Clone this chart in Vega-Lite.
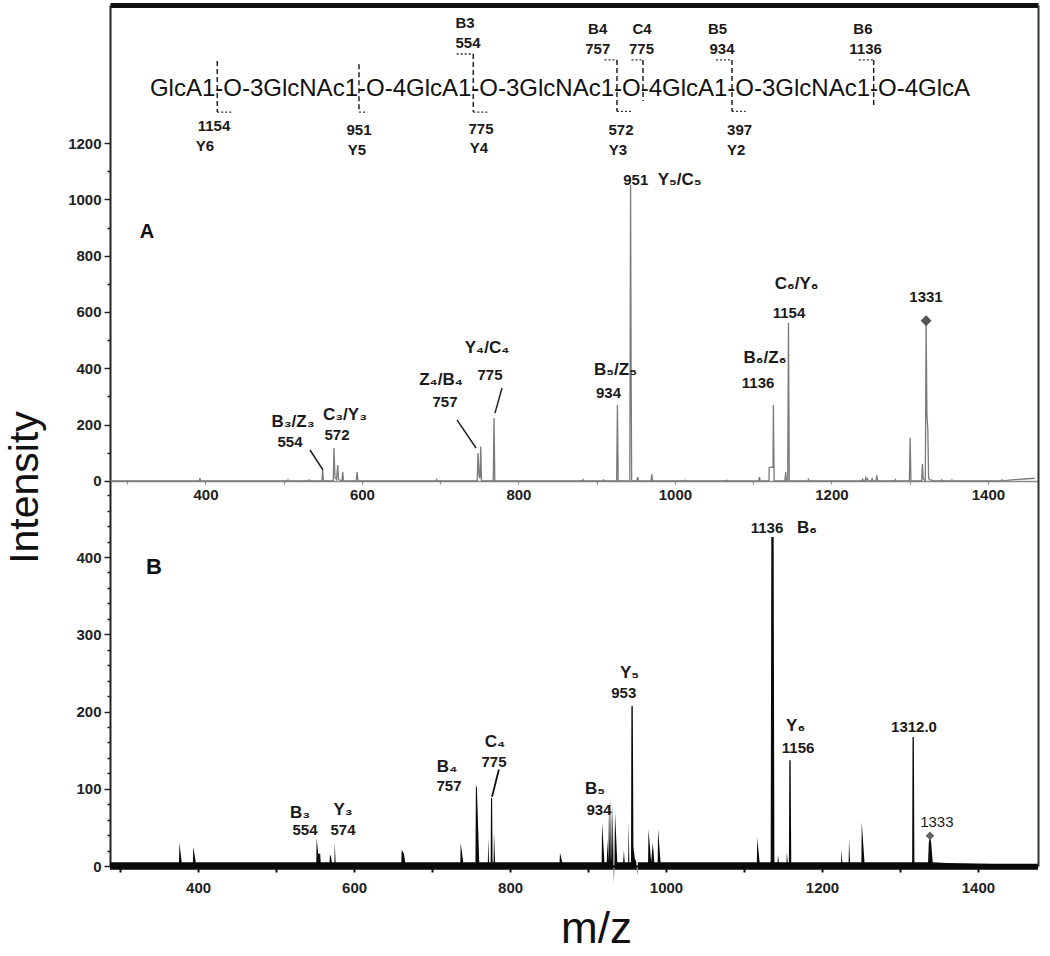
{
  "$schema": "https://vega.github.io/schema/vega-lite/v6.json",
  "width": 928,
  "height": 861,
  "autosize": {"type": "none"},
  "padding": {"left": 110, "top": 5, "right": 12, "bottom": 90},
  "background": "white",
  "config": {
    "view": {"stroke": null},
    "font": "Liberation Sans",
    "axis": {"grid": false, "labelFont": "Liberation Sans", "titleFont": "Liberation Sans", "labelOverlap": false, "labelFlush": false}
  },
  "datasets": {
    "specA": [
      {"m":278,"i":0},{"m":392,"i":0},{"m":393,"i":8},{"m":394,"i":0},{"m":504.5,"i":0},{"m":505.5,"i":4},{"m":506.5,"i":0},
      {"m":531.3,"i":0},{"m":532.3,"i":4},{"m":533.3,"i":0},{"m":548.8,"i":0},{"m":549.8,"i":39},{"m":550.8,"i":0},
      {"m":563.3,"i":0},{"m":564.3,"i":117},{"m":565.5,"i":12},{"m":567.5,"i":5},{"m":569,"i":57},{"m":570,"i":5},
      {"m":574.4,"i":0},{"m":575.4,"i":32},{"m":576.4,"i":0},{"m":592.7,"i":0},{"m":593.7,"i":32},{"m":595,"i":0},
      {"m":694.5,"i":0},{"m":695.5,"i":5},{"m":696.5,"i":0},{"m":747.3,"i":0},{"m":748.3,"i":99},{"m":749.6,"i":20},
      {"m":750.8,"i":10},{"m":751.8,"i":122},{"m":752.8,"i":0},{"m":767.8,"i":0},{"m":768.8,"i":224},{"m":769.8,"i":0},
      {"m":881.5,"i":0},{"m":882.5,"i":5},{"m":883.5,"i":0},{"m":907.6,"i":0},{"m":908.6,"i":4},{"m":909.6,"i":0},
      {"m":925.5,"i":0},{"m":926.5,"i":270},{"m":927.5,"i":0},{"m":942.3,"i":0},{"m":943.3,"i":1051},{"m":944,"i":400},{"m":944.7,"i":0},
      {"m":951.4,"i":0},{"m":952.4,"i":14},{"m":953.6,"i":0},{"m":969.4,"i":0},{"m":970.4,"i":24},{"m":971.4,"i":0},
      {"m":1012,"i":0},{"m":1013,"i":3},{"m":1014,"i":0},{"m":1065.5,"i":0},{"m":1066.5,"i":3},{"m":1067.5,"i":0},
      {"m":1107,"i":0},{"m":1108,"i":14},{"m":1109,"i":0},{"m":1120.2,"i":0},{"m":1120.5,"i":48},{"m":1125.3,"i":48},
      {"m":1125.8,"i":270},{"m":1126.8,"i":0},{"m":1140.5,"i":0},{"m":1141.5,"i":32},{"m":1142.5,"i":0},
      {"m":1144.1,"i":0},{"m":1145.1,"i":562},{"m":1146.1,"i":0},{"m":1169.6,"i":0},{"m":1170.6,"i":6},{"m":1171.6,"i":0},
      {"m":1239,"i":0},{"m":1240,"i":6},{"m":1241,"i":0},{"m":1243,"i":0},{"m":1244,"i":12},{"m":1245,"i":4},{"m":1246,"i":8},
      {"m":1247,"i":0},{"m":1251,"i":0},{"m":1252,"i":8},{"m":1253,"i":0},{"m":1257,"i":0},{"m":1258,"i":20},{"m":1259,"i":0},
      {"m":1280.8,"i":0},{"m":1281.8,"i":5},{"m":1282.8,"i":0},{"m":1299.6,"i":0},{"m":1300.6,"i":153},{"m":1301.6,"i":0},
      {"m":1315.3,"i":0},{"m":1316.3,"i":60},{"m":1317.3,"i":8},{"m":1320,"i":0},{"m":1321,"i":569},{"m":1322,"i":240},
      {"m":1323.2,"i":180},{"m":1324.2,"i":8},{"m":1326,"i":4},{"m":1329,"i":3},{"m":1331,"i":0},{"m":1339.8,"i":0},
      {"m":1340.8,"i":4},{"m":1341.8,"i":0},{"m":1353,"i":0},{"m":1354,"i":4},{"m":1355,"i":0},{"m":1417,"i":0},
      {"m":1418,"i":4},{"m":1419,"i":0},{"m":1422,"i":1},{"m":1430,"i":4},{"m":1440,"i":6},{"m":1450,"i":8},{"m":1460,"i":9}
    ],
    "specB": [
      {"m":287,"i":5},{"m":375.5,"i":5},{"m":376,"i":30},{"m":379,"i":5},{"m":393.3,"i":5},{"m":393.8,"i":25},{"m":397,"i":5},
      {"m":551.5,"i":5},{"m":552,"i":36},{"m":554,"i":16},{"m":556.5,"i":16},{"m":557.2,"i":5},{"m":568.5,"i":5},{"m":569,"i":15},
      {"m":570.5,"i":12},{"m":571.5,"i":5},{"m":574.8,"i":5},{"m":575.2,"i":31},{"m":576.3,"i":5},{"m":660.5,"i":5},{"m":661,"i":21},
      {"m":664,"i":16},{"m":665.5,"i":5},{"m":736.2,"i":5},{"m":736.7,"i":30},{"m":740,"i":5},{"m":755.6,"i":5},{"m":756.2,"i":106},
      {"m":757.5,"i":100},{"m":760.5,"i":5},{"m":771.5,"i":5},{"m":772,"i":36},{"m":773,"i":5},{"m":775.1,"i":5},{"m":775.6,"i":88},
      {"m":777,"i":88},{"m":777.6,"i":5},{"m":778.9,"i":5},{"m":779.4,"i":44},{"m":780.8,"i":5},{"m":863.5,"i":5},{"m":864,"i":17},
      {"m":867,"i":5},{"m":917.5,"i":5},{"m":918,"i":57},{"m":921,"i":5},{"m":924,"i":5},{"m":925,"i":35},{"m":926,"i":5},
      {"m":927,"i":85},{"m":928.3,"i":5},{"m":929.3,"i":88},{"m":930.6,"i":5},{"m":931.6,"i":82},{"m":932.6,"i":5},{"m":933.2,"i":-22},
      {"m":933.8,"i":5},{"m":934.6,"i":70},{"m":937.5,"i":5},{"m":945,"i":5},{"m":946,"i":20},{"m":947,"i":5},{"m":951.5,"i":5},
      {"m":952,"i":57},{"m":953,"i":5},{"m":955.1,"i":5},{"m":955.6,"i":207},{"m":957.4,"i":207},{"m":958.2,"i":25},{"m":960,"i":10},
      {"m":962,"i":5},{"m":963,"i":-12},{"m":964,"i":5},{"m":977,"i":5},{"m":977.5,"i":48},{"m":981,"i":5},{"m":983,"i":30},
      {"m":985,"i":5},{"m":989.3,"i":5},{"m":989.8,"i":48},{"m":993,"i":5},{"m":1116.5,"i":5},{"m":1117,"i":37},{"m":1120,"i":5},
      {"m":1134.2,"i":5},{"m":1135,"i":426},{"m":1138,"i":426},{"m":1139,"i":5},{"m":1143,"i":5},{"m":1143.6,"i":15},
      {"m":1144.6,"i":5},{"m":1154.5,"i":5},{"m":1155,"i":18},{"m":1156,"i":5},{"m":1157.6,"i":5},{"m":1158.1,"i":137},
      {"m":1159.8,"i":137},{"m":1160.6,"i":5},{"m":1224.5,"i":5},{"m":1225,"i":22},{"m":1226,"i":5},{"m":1234.2,"i":5},
      {"m":1234.7,"i":35},{"m":1236,"i":5},{"m":1250.5,"i":5},{"m":1251,"i":57},{"m":1254.5,"i":5},{"m":1315.6,"i":5},
      {"m":1316.1,"i":167},{"m":1317.8,"i":167},{"m":1318.5,"i":5},{"m":1336,"i":5},{"m":1337,"i":30},{"m":1338.5,"i":39},
      {"m":1340,"i":30},{"m":1342,"i":5},{"m":1360,"i":4},{"m":1420,"i":3},{"m":1477,"i":3}
    ],
    "diaA": [{"m":1321,"i":569}],
    "diaB": [{"m":1338.5,"i":39}],
    "leadA": [
      {"m":533.6,"i":110,"m2":550.2,"i2":39},
      {"m":721.5,"i":217,"m2":745.8,"i2":117},
      {"m":779,"i":330,"m2":770,"i2":241}
    ],
    "leadB": [{"m":785.7,"i":125,"m2":776.9,"i2":89.7}],
    "cutsA": [
      {"m":415.1,"i":1491,"i2":1310},
      {"m":596.2,"i":1480,"i2":1310},
      {"m":742.3,"i":1516,"i2":1310},
      {"m":925.9,"i":1495,"i2":1312},
      {"m":959.2,"i":1495,"i2":1349},
      {"m":1072.9,"i":1495,"i2":1312},
      {"m":1254.0,"i":1495,"i2":1335}
    ],
    "bracketsA": [
      {"m":415.1,"m2":433.9,"i":1310},
      {"m":596.2,"m2":606.5,"i":1310},
      {"m":742.3,"m2":762.4,"i":1310},
      {"m":925.9,"m2":944.5,"i":1312},
      {"m":1072.9,"m2":1090.4,"i":1312},
      {"m":721.1,"m2":742.3,"i":1516},
      {"m":910,"m2":925.9,"i":1495},
      {"m":944.5,"m2":959.2,"i":1495},
      {"m":1052.5,"m2":1072.9,"i":1495},
      {"m":1235.1,"m2":1254.0,"i":1495}
    ],
    "glycan": [{"m":853.1,"i":1367,"t":"GlcA1-O-3GlcNAc1-O-4GlcA1-O-3GlcNAc1-O-4GlcA1-O-3GlcNAc1-O-4GlcA"}],
    "structLab": [
      {"m":731.7,"i":1626,"t":"B3"},{"m":735.5,"i":1555,"t":"554"},
      {"m":901.3,"i":1606,"t":"B4"},{"m":901.3,"i":1534,"t":"757"},
      {"m":957.9,"i":1606,"t":"C4"},{"m":957.3,"i":1534,"t":"775"},
      {"m":1054.5,"i":1606,"t":"B5"},{"m":1060.2,"i":1534,"t":"934"},
      {"m":1240.3,"i":1606,"t":"B6"},{"m":1243.7,"i":1534,"t":"1136"},
      {"m":410.9,"i":1260,"t":"1154"},{"m":399.4,"i":1189,"t":"Y6"},
      {"m":596.2,"i":1246,"t":"951"},{"m":593.7,"i":1175,"t":"Y5"},
      {"m":752.1,"i":1250,"t":"775"},{"m":749.6,"i":1182,"t":"Y4"},
      {"m":931.1,"i":1246,"t":"572"},{"m":927.2,"i":1175,"t":"Y3"},
      {"m":1082.6,"i":1246,"t":"397"},{"m":1078.1,"i":1175,"t":"Y2"}
    ],
    "labA": [
      {"m":325.3,"i":884,"t":"A","k":"panel"},
      {"m":511.9,"i":209,"t":"B₃/Z₃","k":"ion"},
      {"m":508,"i":138,"t":"554","k":"num"},
      {"m":578.3,"i":234,"t":"C₃/Y₃","k":"ion"},
      {"m":568.1,"i":163,"t":"572","k":"num"},
      {"m":701,"i":358.6,"t":"Z₄/B₄","k":"ion"},
      {"m":706.1,"i":280,"t":"757","k":"num"},
      {"m":759.8,"i":472,"t":"Y₄/C₄","k":"ion"},
      {"m":763.7,"i":376,"t":"775","k":"num"},
      {"m":924,"i":394,"t":"B₅/Z₅","k":"ion"},
      {"m":915.1,"i":312,"t":"934","k":"num"},
      {"m":949.9,"i":1069,"t":"951","k":"num"},
      {"m":1006,"i":1069,"t":"Y₅/C₅","k":"ion"},
      {"m":1115.1,"i":437,"t":"B₆/Z₆","k":"ion"},
      {"m":1106.2,"i":348,"t":"1136","k":"num"},
      {"m":1155.6,"i":699,"t":"C₆/Y₆","k":"ion"},
      {"m":1145.8,"i":597,"t":"1154","k":"num"},
      {"m":1320.9,"i":653,"t":"1331","k":"num"}
    ],
    "labB": [
      {"m":343.4,"i":387,"t":"B","k":"panel"},
      {"m":530.7,"i":68.6,"t":"B₃","k":"ion"},
      {"m":537,"i":46.6,"t":"554","k":"num"},
      {"m":585.8,"i":72.5,"t":"Y₃","k":"ion"},
      {"m":585.8,"i":46.6,"t":"574","k":"num"},
      {"m":719.2,"i":128,"t":"B₄","k":"ion"},
      {"m":721.7,"i":103.6,"t":"757","k":"num"},
      {"m":780.7,"i":160,"t":"C₄","k":"ion"},
      {"m":779.4,"i":135,"t":"775","k":"num"},
      {"m":909,"i":100,"t":"B₅","k":"ion"},
      {"m":914.1,"i":72.5,"t":"934","k":"num"},
      {"m":953.2,"i":250,"t":"Y₅","k":"ion"},
      {"m":945.8,"i":224,"t":"953","k":"num"},
      {"m":1129.5,"i":437.5,"t":"1136","k":"num"},
      {"m":1180.8,"i":437.5,"t":"B₆","k":"ion"},
      {"m":1166.2,"i":181,"t":"Y₆","k":"ion"},
      {"m":1169.3,"i":153,"t":"1156","k":"num"},
      {"m":1318,"i":180,"t":"1312.0","k":"num"},
      {"m":1347.3,"i":57,"t":"1333","k":"thin"}
    ]
  },
  "layer": [
    {
      "encoding": {
        "x": {"field": "m", "type": "quantitative", "scale": {"domain": [278, 1464], "nice": false, "zero": false}, "axis": null},
        "y": {"field": "i", "type": "quantitative", "scale": {"domain": [-1367, 1690], "nice": false, "zero": false}, "axis": null}
      },
      "layer": [
        {
          "data": {"name": "specA"},
          "mark": {"type": "line", "color": "#7a7a7a", "strokeWidth": 1.3},
          "encoding": {
            "x": {"field": "m", "type": "quantitative", "scale": {"domain": [278, 1464], "nice": false, "zero": false},
              "axis": {"orient": "bottom", "offset": -385, "values": [300,400,500,600,700,800,900,1000,1100,1200,1300,1400], "format": "d",
                "labelExpr": "datum.value % 200 === 0 ? datum.label : ''", "labelFontSize": 15, "labelFontWeight": "bold", "labelColor": "#222",
                "labelPadding": 3, "domainColor": "#8a8a8a", "domainWidth": 1.5, "tickColor": "#8a8a8a", "tickSize": 3, "tickWidth": 1.2, "title": null}},
            "y": {"field": "i", "type": "quantitative", "scale": {"domain": [-1367, 1690], "nice": false, "zero": false},
              "axis": {"orient": "left", "values": [0,100,200,300,400,500,600,700,800,900,1000,1100,1200], "format": "d",
                "labelExpr": "datum.value % 200 === 0 ? datum.label : ''", "labelFontSize": 15, "labelFontWeight": "bold", "labelColor": "#222",
                "labelPadding": 3, "domainColor": "#222", "domainWidth": 2, "tickColor": "#222", "tickWidth": 1.5,
                "tickSize": {"condition": {"test": "datum.value % 200 === 0", "value": 6}, "value": 3},
                "title": "Intensity", "titleFontSize": 41, "titleFontWeight": "normal", "titleColor": "#111",
                "titleX": -73, "titleY": 482, "titleAngle": -90, "titleAlign": "center", "titleBaseline": "alphabetic"}}
          }
        },
        {
          "data": {"name": "diaA"},
          "mark": {"type": "point", "shape": "diamond", "filled": true, "size": 120, "color": "#555", "opacity": 1},
          "encoding": {
            "x": {"field": "m", "type": "quantitative", "scale": {"domain": [278, 1464], "nice": false, "zero": false},
              "axis": {"orient": "top", "domainWidth": 5, "domainColor": "#111", "ticks": false, "labels": false, "title": null}},
            "y": {"field": "i", "type": "quantitative", "scale": {"domain": [-1367, 1690], "nice": false, "zero": false},
              "axis": {"orient": "right", "domainWidth": 2, "domainColor": "#333", "ticks": false, "labels": false, "title": null}}
          }
        },
        {
          "data": {"name": "leadA"},
          "mark": {"type": "rule", "color": "#222", "strokeWidth": 1.5},
          "encoding": {"x2": {"field": "m2"}, "y2": {"field": "i2"}}
        },
        {
          "data": {"name": "cutsA"},
          "mark": {"type": "rule", "color": "#222", "strokeWidth": 1.5, "strokeDash": [5, 3]},
          "encoding": {"y2": {"field": "i2"}}
        },
        {
          "data": {"name": "bracketsA"},
          "mark": {"type": "rule", "color": "#333", "strokeWidth": 1.3, "strokeDash": [2, 2]},
          "encoding": {"x2": {"field": "m2"}}
        },
        {
          "data": {"name": "glycan"},
          "mark": {"type": "text", "fontSize": 24, "color": "#111", "align": "center", "baseline": "alphabetic"},
          "encoding": {"text": {"field": "t"}}
        },
        {
          "data": {"name": "structLab"},
          "mark": {"type": "text", "fontSize": 15, "fontWeight": "bold", "color": "#1a1a1a", "align": "center", "baseline": "middle"},
          "encoding": {"text": {"field": "t"}}
        },
        {
          "data": {"name": "labA"},
          "transform": [{"filter": "datum.k === 'num'"}],
          "mark": {"type": "text", "fontSize": 15, "fontWeight": "bold", "color": "#1a1a1a", "align": "center", "baseline": "middle"},
          "encoding": {"text": {"field": "t"}}
        },
        {
          "data": {"name": "labA"},
          "transform": [{"filter": "datum.k === 'ion'"}],
          "mark": {"type": "text", "fontSize": 17, "fontWeight": "bold", "color": "#1a1a1a", "align": "center", "baseline": "middle"},
          "encoding": {"text": {"field": "t"}}
        },
        {
          "data": {"name": "labA"},
          "transform": [{"filter": "datum.k === 'panel'"}],
          "mark": {"type": "text", "fontSize": 20, "fontWeight": "bold", "color": "#111", "align": "center", "baseline": "middle"},
          "encoding": {"text": {"field": "t"}}
        }
      ],
      "resolve": {"axis": {"x": "independent", "y": "independent"}}
    },
    {
      "encoding": {
        "x": {"field": "m", "type": "quantitative", "scale": {"domain": [287, 1477], "nice": false, "zero": false}, "axis": null},
        "y": {"field": "i", "type": "quantitative", "scale": {"domain": [0, 1114.6], "nice": false, "zero": false}, "axis": null}
      },
      "layer": [
        {
          "data": {"name": "specB"},
          "mark": {"type": "area", "color": "#0a0a0a", "opacity": 1},
          "encoding": {
            "x": {"field": "m", "type": "quantitative", "scale": {"domain": [287, 1477], "nice": false, "zero": false},
              "axis": {"orient": "bottom", "values": [300,400,500,600,700,800,900,1000,1100,1200,1300,1400], "format": "d",
                "labelExpr": "datum.value % 200 === 0 ? datum.label : ''", "labelFontSize": 15, "labelFontWeight": "bold", "labelColor": "#222",
                "labelPadding": 8, "domainColor": "#111", "domainWidth": 2, "tickColor": "#111", "tickSize": 6, "tickWidth": 2,
                "title": "m/z", "titleFontSize": 44, "titleFontWeight": "normal", "titleColor": "#111",
                "titleX": 486, "titleY": 76, "titleAlign": "center", "titleBaseline": "alphabetic", "titleAngle": 0}},
            "y": {"field": "i", "type": "quantitative", "scale": {"domain": [0, 1114.6], "nice": false, "zero": false},
              "axis": {"orient": "left", "values": [0,20,40,60,80,100,120,140,160,180,200,220,240,260,280,300,320,340,360,380,400,420,440,460,480], "format": "d",
                "labelExpr": "datum.value % 100 === 0 ? datum.label : ''", "labelFontSize": 15, "labelFontWeight": "bold", "labelColor": "#222",
                "labelPadding": 3, "domain": false, "tickColor": "#222", "tickWidth": 1.5,
                "tickSize": {"condition": {"test": "datum.value % 100 === 0", "value": 6}, "value": 3}, "title": null}},
            "y2": {"datum": -5}
          }
        },
        {
          "data": {"name": "diaB"},
          "mark": {"type": "point", "shape": "diamond", "filled": true, "size": 75, "color": "#666", "opacity": 1}
        },
        {
          "data": {"name": "leadB"},
          "mark": {"type": "rule", "color": "#111", "strokeWidth": 1.8},
          "encoding": {"x2": {"field": "m2"}, "y2": {"field": "i2"}}
        },
        {
          "data": {"name": "labB"},
          "transform": [{"filter": "datum.k === 'num'"}],
          "mark": {"type": "text", "fontSize": 15, "fontWeight": "bold", "color": "#1a1a1a", "align": "center", "baseline": "middle"},
          "encoding": {"text": {"field": "t"}}
        },
        {
          "data": {"name": "labB"},
          "transform": [{"filter": "datum.k === 'thin'"}],
          "mark": {"type": "text", "fontSize": 15, "fontWeight": "normal", "color": "#1a1a1a", "align": "center", "baseline": "middle"},
          "encoding": {"text": {"field": "t"}}
        },
        {
          "data": {"name": "labB"},
          "transform": [{"filter": "datum.k === 'ion'"}],
          "mark": {"type": "text", "fontSize": 17, "fontWeight": "bold", "color": "#1a1a1a", "align": "center", "baseline": "middle"},
          "encoding": {"text": {"field": "t"}}
        },
        {
          "data": {"name": "labB"},
          "transform": [{"filter": "datum.k === 'panel'"}],
          "mark": {"type": "text", "fontSize": 22, "fontWeight": "bold", "color": "#111", "align": "center", "baseline": "middle"},
          "encoding": {"text": {"field": "t"}}
        }
      ],
      "resolve": {"axis": {"x": "independent", "y": "independent"}}
    }
  ],
  "resolve": {"scale": {"x": "independent", "y": "independent"}, "axis": {"x": "independent", "y": "independent"}}
}
